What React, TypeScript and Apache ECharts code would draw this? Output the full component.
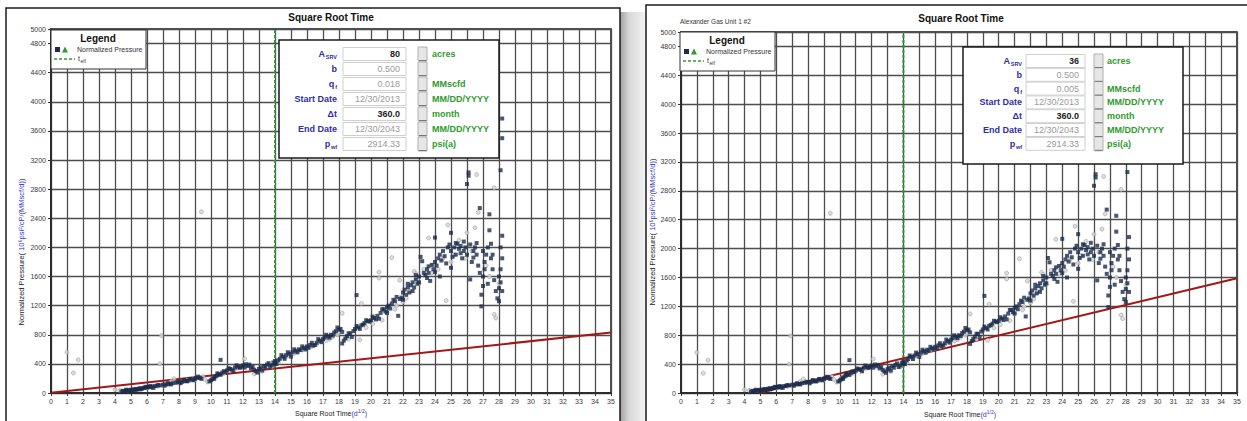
import React, { useEffect, useRef } from "react";
import * as echarts from "echarts";

// ---------- data ----------
const navyPressure: number[][] = [
  [4.4, 20], [4.5, 30], [4.6, 25], [4.7, 35], [4.7, 45], [4.8, 30], [4.9, 40], [5.0, 45], [5.0, 30], [5.1, 40], [5.2, 50],
  [5.3, 55], [5.3, 42], [5.4, 50], [5.5, 60], [5.6, 65], [5.6, 50], [5.7, 60], [5.8, 70], [5.9, 72], [5.9, 85], [6.0, 80],
  [6.1, 85], [6.2, 78], [6.2, 95], [6.3, 90], [6.4, 70], [6.5, 95], [6.6, 100], [6.7, 110], [6.8, 105], [7.0, 115],
  [7.1, 100], [7.2, 120], [7.3, 135], [7.4, 125], [7.5, 118], [7.6, 135], [7.8, 140], [7.9, 155], [8.0, 150], [8.1, 135],
  [8.2, 155], [8.3, 180], [8.4, 165], [8.5, 160], [8.6, 170], [8.7, 195], [8.8, 185], [8.9, 175], [9.0, 195], [9.1, 210],
  [9.2, 225], [9.3, 205], [9.4, 195],
  [9.9, 160], [10.0, 175], [10.1, 190], [10.2, 215], [10.2, 195], [10.3, 230], [10.4, 245], [10.4, 270], [10.5, 260],
  [10.6, 455], [10.6, 250], [10.7, 280], [10.8, 300], [10.9, 290], [11.0, 310], [11.1, 340], [11.2, 330], [11.3, 320],
  [11.4, 300], [11.5, 350], [11.6, 380], [11.7, 360], [11.8, 345], [11.9, 360], [12.0, 380], [12.1, 350], [12.2, 395],
  [12.3, 370], [12.4, 390], [12.5, 340], [12.6, 360], [12.7, 320], [12.8, 300], [12.9, 280], [13.0, 330], [13.1, 350],
  [13.2, 310], [13.3, 370], [13.4, 350], [13.5, 390], [13.6, 410], [13.7, 360], [13.8, 380], [13.9, 420], [14.0, 440],
  [14.0, 400], [14.1, 400], [14.2, 450],
  [14.3, 470], [14.4, 520], [14.5, 500], [14.6, 470], [14.7, 520], [14.8, 560], [14.9, 540], [15.0, 500], [15.1, 560],
  [15.2, 600], [15.3, 580], [15.4, 560], [15.5, 600], [15.6, 590], [15.7, 640], [15.8, 620], [15.9, 600], [16.0, 640],
  [16.1, 620], [16.2, 660], [16.3, 690], [16.4, 650], [16.5, 660], [16.6, 690], [16.7, 740], [16.8, 720], [16.9, 700],
  [17.0, 740], [17.1, 760], [17.2, 800], [17.3, 780], [17.4, 760], [17.5, 800], [17.6, 790], [17.7, 830], [17.8, 850],
  [17.9, 900], [18.0, 870], [18.1, 880], [18.2, 840],
  [18.2, 680], [18.3, 720], [18.4, 750], [18.5, 780], [18.6, 820], [18.7, 820], [18.8, 770], [18.9, 850], [19.0, 880],
  [19.1, 1345], [19.1, 920], [19.2, 900], [19.3, 880], [19.4, 930], [19.5, 940], [19.6, 960], [19.7, 1000], [19.8, 990],
  [19.9, 980], [20.0, 1000], [20.1, 1050], [20.2, 1030], [20.3, 1010], [20.4, 1060], [20.5, 1020], [20.6, 1100],
  [20.7, 1150], [20.8, 1150], [20.9, 1120], [21.0, 1180], [21.0, 1100], [21.1, 1200], [21.2, 1160], [21.3, 1230],
  [21.4, 1280], [21.5, 1260], [21.6, 1320], [21.7, 1060], [21.8, 1290], [21.9, 1310], [22.0, 1380], [22.0, 1280],
  [22.1, 1420], [22.2, 1350], [22.3, 1450], [22.3, 1500], [22.4, 1380], [22.5, 1480], [22.6, 1520], [22.6, 1400],
  [22.7, 1450], [22.8, 1560], [22.8, 1620], [22.9, 1500], [23.0, 1600], [23.0, 1520], [23.1, 1870], [23.2, 1810],
  [23.3, 1650], [23.4, 1620], [23.5, 1700], [23.5, 1580], [23.6, 1740], [23.6, 1650], [23.7, 1540], [23.8, 1760],
  [23.9, 1700], [24.0, 2135], [24.0, 1800], [24.0, 1660], [24.1, 1750], [24.2, 1850], [24.3, 1900], [24.3, 1600],
  [24.4, 1820], [24.5, 1950], [24.6, 1880], [24.7, 1780], [24.8, 2000], [24.9, 2040], [25.0, 2200], [25.0, 1950],
  [25.0, 1720], [25.1, 1870], [25.2, 2000], [25.3, 1900], [25.3, 2060], [25.4, 2050], [25.5, 1980], [25.6, 2020],
  [25.6, 1920], [25.7, 1850], [25.8, 1950], [25.8, 2080], [25.9, 2000], [26.0, 1900], [26.1, 3030], [26.1, 2985],
  [26.0, 2870], [26.2, 1560], [26.2, 2040], [26.3, 1800], [26.4, 1950], [26.4, 1860], [26.5, 2000], [26.6, 1900],
  [26.6, 2060], [26.7, 1750], [26.8, 2540], [26.8, 1650], [26.9, 1190], [26.9, 1350], [27.0, 1470], [27.0, 1600],
  [27.0, 1950], [27.1, 1800], [27.1, 1700], [27.2, 1900], [27.3, 2000], [27.3, 1500], [27.4, 2235], [27.4, 2455],
  [27.5, 1850], [27.5, 2050], [27.6, 1700], [27.6, 1900], [27.7, 1550], [27.8, 1400], [27.9, 1300], [28.0, 1260],
  [28.0, 1440], [28.0, 1600], [28.1, 3060], [28.2, 3770], [28.2, 3500], [28.2, 2160], [28.1, 2000], [28.2, 1850],
  [28.1, 1700], [28.1, 1520], [28.2, 1400],
];

const grayPressure: number[][] = [
  [1.0, 560], [1.4, 275], [1.7, 455], [4.0, 45], [4.3, 35], [4.8, 35], [5.2, 45], [5.5, 55], [6.0, 70], [6.3, 80],
  [6.7, 92], [6.8, 400], [6.9, 790], [7.0, 100], [7.3, 115], [7.5, 160], [7.7, 195], [8.1, 140], [8.3, 160], [8.5, 175],
  [8.8, 190], [9.0, 180], [9.2, 215], [9.4, 2490], [9.5, 225], [9.6, 190], [9.8, 150], [10.1, 200], [10.4, 240],
  [10.8, 270], [11.0, 300], [11.6, 340], [12.1, 470], [12.7, 260], [13.2, 300], [13.8, 360], [14.2, 420], [14.6, 480],
  [14.8, 510], [15.0, 520], [15.2, 545], [15.4, 560], [15.7, 590], [15.9, 600], [16.1, 630], [16.3, 640], [16.6, 670],
  [16.9, 700], [17.2, 720], [17.4, 740], [17.6, 770], [17.9, 800], [18.0, 830], [18.2, 1095], [18.6, 740], [19.3, 730],
  [19.4, 1230], [19.7, 900], [20.1, 950], [20.5, 1660], [20.5, 1580], [20.7, 1000], [21.0, 1100], [21.3, 1860],
  [21.5, 1150], [21.6, 1200], [21.8, 1550], [22.0, 1250], [22.2, 1300], [22.4, 1400], [22.7, 1670], [22.8, 1640],
  [22.9, 1560], [23.0, 1500], [23.3, 1700], [23.6, 2130], [23.8, 1650], [23.9, 1750], [24.2, 1700], [24.5, 1850],
  [24.7, 1270], [24.8, 2310], [25.0, 1800], [25.2, 1900], [25.5, 2100], [25.9, 1850], [26.0, 2200], [26.3, 1950],
  [26.5, 2270], [26.6, 3000], [26.7, 2480], [27.2, 1750], [27.4, 1600], [27.7, 2820], [27.7, 1080], [27.8, 1030],
  [28.0, 1500],
];

const trendLeft: number[][] = [[0, 5], [35, 830]];
const trendRight: number[][] = [[4.9, 0], [35, 1590]];
const telf = 14;
const telfLine: number[][] = [[telf, 0], [telf, 5000]];

const rowLabels: string[][] = [["A", "SRV"], ["b", ""], ["q", "f"], ["Start Date", ""], ["\u0394t", ""], ["End Date", ""], ["p", "wf"]];
const subWidths = [11.5, 0, 2.2, 0, 0, 0, 6.2];
const valuesLeft = ["80", "0.500", "0.018", "12/30/2013", "360.0", "12/30/2043", "2914.33"];
const valuesRight = ["36", "0.500", "0.005", "12/30/2013", "360.0", "12/30/2043", "2914.33"];
const units = ["acres", "", "MMscfd", "MM/DD/YYYY", "month", "MM/DD/YYYY", "psi(a)"];
const boldRows = [0, 4];

// ---------- styles ----------
const FONT = "'Liberation Sans', Arial, sans-serif";
const BLUE = "#2e2ea6";
const GREEN = "#2f9a2f";
const NAVY = "#1c2c4c";
const RED = "#a21818";

function txt(x: number, y: number, text: string, o: any = {}) {
  const align = o.align || "left";
  return {
    type: "text",
    x,
    y,
    rotation: o.rotation || 0,
    z: o.z || 110,
    style: {
      text,
      fontFamily: FONT,
      fontSize: o.size || 8,
      fontWeight: o.bold ? "bold" : "normal",
      fill: o.color || "#222",
      align,
      textAlign: align,
      verticalAlign: "middle",
      textVerticalAlign: "middle",
      rich: o.rich,
    },
  };
}

const panels = [
  {
    grid: { left: 51, top: 29, width: 560, height: 364 },
    frame: { x: 6, y: 8, w: 614 },
    title: { x: 331, y: 17 },
    legend: { x: 51, y: 30 },
    table: { left: 279, top: 40, width: 220, height: 118, rowY0: 54, rowStep: 15, labelRight: 337, valL: 343, valR: 406, btnL: 418, unitL: 432 },
    values: valuesLeft,
    yName: { x: 21, y: 252 },
    xName: { x: 331, y: 413 },
    trend: trendLeft,
    subtitle: "",
  },
  {
    grid: { left: 681, top: 32, width: 556, height: 361 },
    frame: { x: 646, y: 5, w: 610 },
    title: { x: 961, y: 18 },
    legend: { x: 680, y: 32 },
    table: { left: 963, top: 47, width: 220, height: 117, rowY0: 61, rowStep: 13.8, labelRight: 1022, valL: 1026, valR: 1085, btnL: 1094, unitL: 1107 },
    values: valuesRight,
    yName: { x: 652, y: 232 },
    xName: { x: 960, y: 414 },
    trend: trendRight,
    subtitle: "Alexander Gas Unit 1 #2",
  },
];

function panelGraphics(p: any) {
  const els: any[] = [];
  els.push({ type: "rect", z: 1, shape: { x: p.frame.x, y: p.frame.y, width: p.frame.w, height: 440 }, style: { fill: "none", stroke: "#1a1a1a", lineWidth: 1.5 } });
  els.push(txt(p.title.x, p.title.y, "Square Root Time", { size: 10, bold: true, align: "center", color: "#111" }));
  if (p.subtitle) els.push(txt(p.grid.left - 1, 21, p.subtitle, { size: 6.5, color: "#333" }));
  els.push(
    txt(p.xName.x, p.xName.y, "{a|Square Root Time}{b|(d}{s|1/2}{b|)}", {
      align: "center",
      size: 7,
      rich: {
        a: { fontSize: 7, fill: "#222", fontFamily: FONT },
        b: { fontSize: 7, fill: "#3333cc", fontFamily: FONT },
        s: { fontSize: 5, fill: "#3333cc", fontFamily: FONT, padding: [0, 0, 4, 0] },
      },
    })
  );
  els.push(
    txt(p.yName.x, p.yName.y, "{a|Normalized Pressure(}{b| 10\u2076psi\u00b2/cP/(MMscf/d))}", {
      align: "center",
      size: 7.5,
      rotation: Math.PI / 2,
      rich: {
        a: { fontSize: 7.5, fill: "#222", fontFamily: FONT },
        b: { fontSize: 7.5, fill: "#3333cc", fontFamily: FONT },
      },
    })
  );
  const lx = p.legend.x, ly = p.legend.y;
  els.push({ type: "rect", z: 105, shape: { x: lx, y: ly, width: 95, height: 39 }, style: { fill: "#fff", stroke: "#333", lineWidth: 1 } });
  els.push(txt(lx + 47, ly + 8, "Legend", { size: 10, bold: true, align: "center", color: "#111" }));
  els.push({ type: "rect", z: 110, shape: { x: lx + 4, y: ly + 17, width: 5, height: 5 }, style: { fill: NAVY } });
  els.push({ type: "polygon", z: 110, shape: { points: [[lx + 11, ly + 22.5], [lx + 14, ly + 16.5], [lx + 17, ly + 22.5]] }, style: { fill: GREEN } });
  els.push(txt(lx + 26, ly + 19.5, "Normalized Pressure", { size: 7, color: "#333" }));
  els.push({ type: "line", z: 110, shape: { x1: lx + 3, y1: ly + 29, x2: lx + 24, y2: ly + 29 }, style: { stroke: GREEN, lineWidth: 1.5, lineDash: [3, 2] } });
  els.push(txt(lx + 27, ly + 28.5, "t", { size: 7, color: "#333" }));
  els.push(txt(lx + 29.5, ly + 30.5, "elf", { size: 5, color: "#333" }));
  const t = p.table;
  els.push({ type: "rect", z: 105, shape: { x: t.left, y: t.top, width: t.width, height: t.height }, style: { fill: "#fff", stroke: "#1a1a1a", lineWidth: 1.5 } });
  rowLabels.forEach((lab, i) => {
    const y = t.rowY0 + i * t.rowStep;
    const main = lab[0], sub = lab[1];
    const subW = subWidths[i];
    els.push(txt(t.labelRight - subW - (sub ? 0.5 : 0), y, main, { size: 9, bold: true, color: BLUE, align: "right" }));
    if (sub) els.push(txt(t.labelRight, y + 3, sub, { size: 5.5, bold: true, color: BLUE, align: "right" }));
    els.push({ type: "rect", z: 108, shape: { x: t.valL, y: y - 6.5, width: t.valR - t.valL, height: 13 }, style: { fill: "#fff", stroke: "#cfcfcf", lineWidth: 1 } });
    const b = boldRows.indexOf(i) >= 0;
    els.push(txt(t.valR - 6, y, p.values[i], { size: 9, bold: b, color: b ? "#222" : "#9b9b9b", align: "right" }));
    els.push({ type: "rect", z: 108, shape: { x: t.btnL, y: y - 7, width: 9, height: 14 }, style: { fill: "#e6e6e6", stroke: "#b0b0b0", lineWidth: 1 } });
    els.push({ type: "line", z: 109, shape: { x1: t.btnL + 1, y1: y + 6.5, x2: t.btnL + 8.5, y2: y + 6.5 }, style: { stroke: "#777", lineWidth: 1 } });
    if (units[i]) els.push(txt(t.unitL, y, units[i], { size: 9, bold: true, color: GREEN }));
  });
  return els;
}

export default function App() {
  const ref = useRef<HTMLDivElement>(null);
  useEffect(() => {
    document.body.style.margin = "0";
    if (!ref.current) return;
    const chart = echarts.init(ref.current, undefined, { renderer: "svg" });
    const axisLabel = { fontSize: 7, color: "#3a3a3a", fontFamily: FONT, formatter: (v: number) => String(v) };
    const graphic: any[] = [
      {
        type: "rect", z: 0, shape: { x: 620, y: 12, width: 26, height: 420 },
        style: {
          fill: new echarts.graphic.LinearGradient(0, 0, 1, 0, [
            { offset: 0, color: "#a0a0a0" },
            { offset: 0.35, color: "#d8d8d8" },
            { offset: 1, color: "#f4f4f4" },
          ]),
        },
      },
      ...panelGraphics(panels[0]),
      ...panelGraphics(panels[1]),
    ];
    const series: any[] = [];
    panels.forEach((p, i) => {
      series.push({
        type: "line", xAxisIndex: i, yAxisIndex: i, data: telfLine, symbol: "none", z: 3,
        lineStyle: { color: GREEN, width: 2, type: [3, 2] },
      });
      series.push({
        type: "line", xAxisIndex: i, yAxisIndex: i, data: p.trend, symbol: "none", z: 4,
        lineStyle: { color: RED, width: 2 },
      });
      series.push({
        type: "scatter", xAxisIndex: i, yAxisIndex: i, data: grayPressure, symbol: "circle", symbolSize: 4, z: 5,
        itemStyle: { color: "#d6d6d6", borderColor: "#8c8c8c", borderWidth: 0.6 },
      });
      series.push({
        type: "scatter", xAxisIndex: i, yAxisIndex: i, data: navyPressure, symbol: "rect", symbolSize: 4, z: 6,
        itemStyle: { color: NAVY },
      });
    });
    chart.setOption({
      animation: false,
      backgroundColor: "#fff",
      grid: panels.map((p) => ({ ...p.grid, show: true, borderColor: "#1a1a1a", borderWidth: 1.5, backgroundColor: "#fff", containLabel: false })),
      xAxis: panels.map((_, i) => ({
        gridIndex: i, type: "value", min: 0, max: 35, interval: 1,
        axisLine: { show: true, onZero: false, lineStyle: { color: "#222", width: 1.5 } },
        axisTick: { show: true, length: 3, lineStyle: { color: "#333" } },
        axisLabel: { ...axisLabel, margin: 5 },
        splitLine: { show: true, lineStyle: { color: "#4d4d4d", width: 1.3 } },
      })),
      yAxis: panels.map((_, i) => ({
        gridIndex: i, type: "value", min: 0, max: 5000, interval: 400,
        axisLine: { show: true, onZero: false, lineStyle: { color: "#222", width: 1.5 } },
        axisTick: { show: true, length: 3, lineStyle: { color: "#333" } },
        axisLabel: { ...axisLabel, margin: 5 },
        splitLine: { show: true, lineStyle: { color: "#4d4d4d", width: 1.3 } },
      })),
      series,
      graphic,
    });
    return () => chart.dispose();
  }, []);
  return <div ref={ref} style={{ position: "absolute", left: 0, top: 0, width: 1247, height: 421 }} />;
}
